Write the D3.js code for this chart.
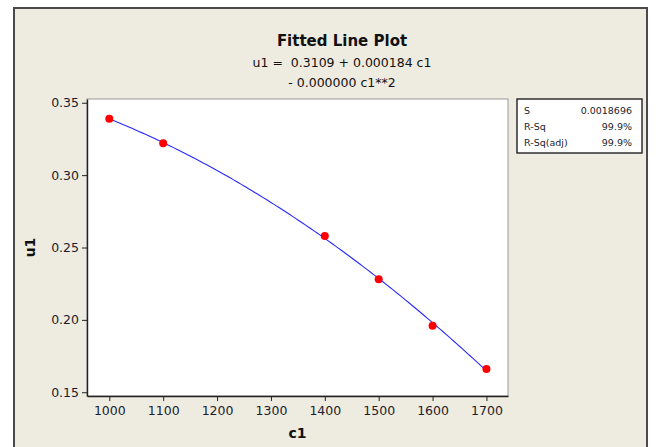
<!DOCTYPE html>
<html>
<head>
<meta charset="utf-8">
<script src="https://cdn.jsdelivr.net/npm/d3@7/dist/d3.min.js"></script>
<style>
  html, body { margin: 0; padding: 0; background: #ffffff; }
  svg text { font-family: "DejaVu Sans", Verdana, sans-serif; }
</style>
</head>
<body>
<svg id="chart" width="656" height="447"></svg>
<script>
// Observations
const c1 = [1000, 1100, 1400, 1500, 1600, 1700];
const u1 = [0.339, 0.322, 0.258, 0.228, 0.196, 0.166];

// Axis ticks
const xTicks = [1000, 1100, 1200, 1300, 1400, 1500, 1600, 1700];
const yTicks = [0.15, 0.20, 0.25, 0.30, 0.35];

// Header and summary statistics
const titleText = "Fitted Line Plot";
const equationLines = ["u1 =  0.3109 + 0.000184 c1", "- 0.000000 c1**2"];
const statLabels = ["S", "R-Sq", "R-Sq(adj)"];
const statValues = ["0.0018696", "99.9%", "99.9%"];

// Least-squares quadratic fit (x centred for numerical stability)
function quadFit(xs, ys) {
  const n = xs.length;
  const mx = d3.mean(xs);
  const t = xs.map(x => x - mx);
  let s0 = n, s1 = 0, s2 = 0, s3 = 0, s4 = 0, r0 = 0, r1 = 0, r2 = 0;
  t.forEach((v, i) => {
    s1 += v; s2 += v * v; s3 += v * v * v; s4 += v * v * v * v;
    r0 += ys[i]; r1 += v * ys[i]; r2 += v * v * ys[i];
  });
  const A = [[s0, s1, s2, r0], [s1, s2, s3, r1], [s2, s3, s4, r2]];
  for (let i = 0; i < 3; i++) {
    for (let k = i + 1; k < 3; k++) {
      const f = A[k][i] / A[i][i];
      for (let j = i; j < 4; j++) A[k][j] -= f * A[i][j];
    }
  }
  const b = [0, 0, 0];
  for (let i = 2; i >= 0; i--) {
    let s = A[i][3];
    for (let j = i + 1; j < 3; j++) s -= A[i][j] * b[j];
    b[i] = s / A[i][i];
  }
  return x => { const v = x - mx; return b[0] + b[1] * v + b[2] * v * v; };
}
const fit = quadFit(c1, u1);

const svg = d3.select("#chart");

// Outer panel
svg.append("rect")
  .attr("x", 14).attr("y", 8).attr("width", 633).attr("height", 450)
  .attr("fill", "#eeebe1").attr("stroke", "#4a4a4a").attr("stroke-width", 2);

const plot = { left: 87, right: 508, top: 99, bottom: 396 };

const x = d3.scaleLinear().domain([958.6, 1740]).range([plot.left, plot.right]);
const y = d3.scaleLinear().domain([0.1474, 0.3526]).range([plot.bottom, plot.top]);

// Plotting area
svg.append("rect")
  .attr("x", plot.left).attr("y", plot.top)
  .attr("width", plot.right - plot.left).attr("height", plot.bottom - plot.top)
  .attr("fill", "#ffffff").attr("stroke", "#9a9a9a").attr("stroke-width", 1);

// Axes
const xAxis = d3.axisBottom(x).tickValues(xTicks).tickFormat(d3.format("d"))
  .tickSizeInner(5).tickSizeOuter(0).tickPadding(5);
const yAxis = d3.axisLeft(y).tickValues(yTicks).tickFormat(d3.format(".2f"))
  .tickSizeInner(5).tickSizeOuter(0).tickPadding(3);

const gx = svg.append("g").attr("transform", `translate(0,${plot.bottom})`).call(xAxis);
const gy = svg.append("g").attr("transform", `translate(${plot.left},0)`).call(yAxis);
[gx, gy].forEach(g => {
  g.select(".domain").attr("stroke", "#222").attr("stroke-width", 1.4);
  g.selectAll(".tick line").attr("stroke", "#222");
  g.selectAll(".tick text").attr("fill", "#1c1c2c").style("font-size", "12.5px")
    .style("font-family", "'DejaVu Sans', Verdana, sans-serif");
});

// Axis titles
svg.append("text")
  .attr("x", (plot.left + plot.right) / 2).attr("y", 438)
  .attr("text-anchor", "middle").attr("font-weight", "bold").attr("font-size", 14)
  .attr("fill", "#111").text("c1");
svg.append("text")
  .attr("transform", `translate(35,${(plot.top + plot.bottom) / 2}) rotate(-90)`)
  .attr("text-anchor", "middle").attr("font-weight", "bold").attr("font-size", 14)
  .attr("fill", "#111").text("u1");

// Title and fitted equation
const cx = 342;
svg.append("text")
  .attr("x", cx).attr("y", 46).attr("text-anchor", "middle")
  .attr("font-weight", "bold").attr("font-size", 15).attr("fill", "#111")
  .text(titleText);
svg.selectAll("text.eq").data(equationLines).join("text")
  .attr("class", "eq")
  .attr("x", cx).attr("y", (d, i) => 67 + i * 19.5)
  .attr("text-anchor", "middle").attr("font-size", 12.5).attr("fill", "#111")
  .style("white-space", "pre").attr("xml:space", "preserve")
  .text(d => d);

// Fitted curve
const curvePts = d3.range(0, 141).map(i => {
  const cv = d3.min(c1) + (d3.max(c1) - d3.min(c1)) * i / 140;
  return [cv, fit(cv)];
});
svg.append("path")
  .datum(curvePts)
  .attr("fill", "none").attr("stroke", "#2a2aff").attr("stroke-width", 1.1)
  .attr("d", d3.line().x(d => x(d[0])).y(d => y(d[1])));

// Observed points
svg.selectAll("circle.obs").data(c1).join("circle")
  .attr("class", "obs")
  .attr("cx", d => x(d)).attr("cy", (d, i) => y(u1[i]))
  .attr("r", 4).attr("fill", "#ff0000");

// Summary statistics box
const box = { x: 517, y: 99, w: 125, h: 54 };
svg.append("rect")
  .attr("x", box.x).attr("y", box.y).attr("width", box.w).attr("height", box.h)
  .attr("fill", "#ffffff").attr("stroke", "#222").attr("stroke-width", 1.4);
statLabels.forEach((lab, i) => {
  const yy = 113.5 + i * 16.3;
  svg.append("text").attr("x", box.x + 7).attr("y", yy)
    .attr("font-size", 9.5).attr("fill", "#1c1c2c").text(lab);
  svg.append("text").attr("x", box.x + box.w - 10).attr("y", yy)
    .attr("text-anchor", "end").attr("font-size", 9.5).attr("fill", "#1c1c2c")
    .text(statValues[i]);
});
</script>
</body>
</html>
